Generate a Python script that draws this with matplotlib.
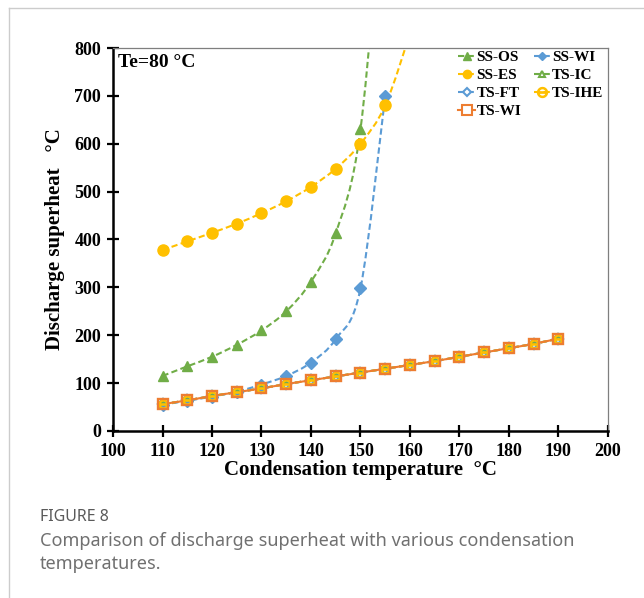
import numpy as np
import matplotlib
matplotlib.use("Agg")
import matplotlib.pyplot as plt
from matplotlib.path import Path
from matplotlib.patches import PathPatch
from matplotlib.lines import Line2D

# condensation temperature (C)
tc_ss = [110, 115, 120, 125, 130, 135, 140, 145, 150, 155]
tc_es = [110, 115, 120, 125, 130, 135, 140, 145, 150, 155, 160]
tc_ts = [110, 115, 120, 125, 130, 135, 140, 145, 150, 155, 160, 165, 170, 175, 180, 185, 190]

# discharge superheat (C)
ss_os = [115, 135, 155, 180, 210, 250, 312, 413, 630, 1200]
ss_es = [378, 396, 414, 433, 455, 480, 510, 548, 600, 680, 830]
ss_wi = [55, 63, 72, 82, 97, 115, 143, 192, 298, 700]
ts_ic = [56, 64, 73, 81, 89, 98, 106, 114, 122, 130, 138, 146, 155, 164, 173, 182, 193]
ts_ft = [56, 64, 73, 81, 89, 98, 106, 114, 122, 130, 138, 146, 155, 164, 173, 182, 193]
ts_ihe = [56, 64, 73, 81, 89, 98, 106, 114, 122, 130, 138, 146, 155, 164, 173, 182, 193]
ts_wi = [56, 64, 73, 81, 89, 98, 106, 114, 122, 130, 138, 146, 155, 164, 173, 182, 193]

GREEN = "#70AD47"
YELLOW = "#FFC000"
BLUE = "#5B9BD5"
ORANGE = "#ED7D31"

serif = "Liberation Serif"


def smooth_line(ax, x, y, color, ls, lw=1.5, z=2):
    # excel-like smoothed line: cardinal spline drawn as cubic beziers
    x = np.asarray(x, float)
    y = np.asarray(y, float)
    n = len(x)
    verts = [(x[0], y[0])]
    codes = [Path.MOVETO]
    t = 1 / 6
    for i in range(n - 1):
        x0, y0 = (x[i - 1], y[i - 1]) if i > 0 else (x[i], y[i])
        x3, y3 = (x[i + 2], y[i + 2]) if i + 2 < n else (x[i + 1], y[i + 1])
        c1 = (x[i] + (x[i + 1] - x0) * t, y[i] + (y[i + 1] - y0) * t)
        c2 = (x[i + 1] - (x3 - x[i]) * t, y[i + 1] - (y3 - y[i]) * t)
        verts += [c1, c2, (x[i + 1], y[i + 1])]
        codes += [Path.CURVE4] * 3
    patch = PathPatch(Path(verts, codes), fill=False, edgecolor=color,
                      linestyle=ls, linewidth=lw, zorder=z, capstyle="butt")
    ax.add_patch(patch)


fig = plt.figure(figsize=(6.44, 5.98), dpi=100)
ax = fig.add_axes([0.1755, 0.2793, 0.7685, 0.6404])

dash = (0, (3, 1.6))

series = [
    # x, y, label, color, marker, filled, line style, marker size
    (tc_ss, ss_os, "SS-OS", GREEN, "^", True, dash, 7.5),
    (tc_ss, ss_wi, "SS-WI", BLUE, "D", True, dash, 6),
    (tc_es, ss_es, "SS-ES", YELLOW, "o", True, dash, 8),
    (tc_ts, ts_ic, "TS-IC", GREEN, "^", False, dash, 5.5),
    (tc_ts, ts_ft, "TS-FT", BLUE, "D", False, dash, 5),
    (tc_ts, ts_ihe, "TS-IHE", YELLOW, "$\u2296$", False, dash, 6.5),
    (tc_ts, ts_wi, "TS-WI", ORANGE, "s", False, "-", 7.3),
]

handles = {}
for k, (x, y, lab, col, mk, filled, ls, ms) in enumerate(series):
    smooth_line(ax, x, y, col, ls, z=2 + k * 0.1)
    if filled:
        ax.plot(x, y, ls="none", marker=mk, ms=ms, color=col, mec=col, zorder=3 + k * 0.1)
    elif mk.startswith("$"):
        ax.plot(x, y, ls="none", marker=mk, ms=ms, color=col, zorder=3 + k * 0.1)
    else:
        ax.plot(x, y, ls="none", marker=mk, ms=ms, mfc="none", mec=col, mew=1.7,
                zorder=3 + k * 0.1)
    if filled:
        h = Line2D([], [], color=col, ls=ls, lw=1.5, marker=mk, ms=ms * 0.75, mec=col)
    elif mk.startswith("$"):
        h = Line2D([], [], color=col, ls=ls, lw=1.5, marker=mk, ms=ms * 1.1)
    else:
        h = Line2D([], [], color=col, ls=ls, lw=1.5, marker=mk, ms=ms * 0.9,
                   mfc="white", mec=col, mew=1.5)
    handles[lab] = h

ax.set_xlim(100, 200)
ax.set_ylim(0, 800)
ax.set_xticks(np.arange(100, 201, 10))
ax.set_yticks(np.arange(0, 801, 100))

for s in ["left", "bottom"]:
    ax.spines[s].set_linewidth(1.8)
    ax.spines[s].set_color("black")
for s in ["top", "right"]:
    ax.spines[s].set_linewidth(0.9)
    ax.spines[s].set_color("#7f7f7f")
ax.tick_params(direction="inout", length=9, width=1.6, pad=4)
for lbl in ax.get_xticklabels() + ax.get_yticklabels():
    lbl.set_fontfamily(serif)
    lbl.set_fontweight("bold")
    lbl.set_fontsize(13)

ax.set_xlabel("Condensation temperature  \u00b0C", family=serif, weight="bold",
              fontsize=15, labelpad=0)
ax.set_ylabel("Discharge superheat   \u00b0C", family=serif, weight="bold",
              fontsize=15, labelpad=7)

ax.text(0.01, 0.985, "Te=80 \u00b0C", transform=ax.transAxes, ha="left", va="top",
        family=serif, weight="bold", fontsize=14)

# row-major order: ncol=2 fills columns first
order = ["SS-OS", "SS-ES", "TS-FT", "TS-WI", "SS-WI", "TS-IC", "TS-IHE"]
leg = ax.legend([handles[o] for o in order], order, loc="upper right", ncol=2,
                frameon=False, prop={"family": serif, "weight": "bold", "size": 11},
                handlelength=1.1, handletextpad=0.1, columnspacing=0.8,
                labelspacing=0.28, borderaxespad=0.0, bbox_to_anchor=(1.003, 1.01))

# page border and caption
fig.add_artist(Line2D([9 / 644, 9 / 644], [0, 1 - 8 / 598], color="#cccccc", lw=1))
fig.add_artist(Line2D([9 / 644, 1], [1 - 8 / 598, 1 - 8 / 598], color="#cccccc", lw=1))

fig.text(40 / 644, 1 - 517 / 598, "FIGURE 8", family="Noto Sans", fontsize=11.5,
         color="#5a5a5a", va="center")
fig.text(40 / 644, 1 - 541 / 598,
         "Comparison of discharge superheat with various condensation",
         family="Noto Sans", fontsize=13, color="#707070", va="center")
fig.text(40 / 644, 1 - 564 / 598, "temperatures.", family="Noto Sans", fontsize=13,
         color="#707070", va="center")

fig.savefig("out.png", dpi=100)
